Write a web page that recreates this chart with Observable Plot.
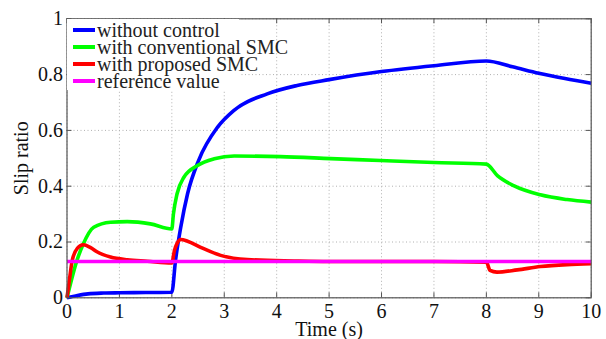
<!DOCTYPE html>
<html>
<head>
<meta charset="utf-8">
<script src="https://cdn.jsdelivr.net/npm/d3@7"></script>
<script src="https://cdn.jsdelivr.net/npm/@observablehq/plot@0.6"></script>
<style>
  html, body { margin: 0; padding: 0; background: white; }
  #wrap { position: relative; width: 606px; height: 339px; font-family: "Liberation Serif", "Times New Roman", "Liberation Sans", Arial, sans-serif; }
  #legend { position: absolute; left: 67px; top: 19px; width: 172px; height: 71px; background: white; }
  #legend .inner { position: absolute; left: 6px; top: 2.5px; }
  .row { display: flex; align-items: center; height: 17px; font-size: 20px; line-height: 17px; white-space: nowrap; color: #222; }
  .sw { display: inline-block; width: 22px; height: 4px; margin-right: 2px; flex: none; }
</style>
</head>
<body>
<div id="wrap"><div id="chart"></div><div id="legend"><div class="inner" id="legendInner"></div></div></div>
<script>
// ---- data ----
const seriesNames = ["without control", "with conventional SMC", "with proposed SMC", "reference value"];
const seriesColors = ["#0000ff", "#00ff00", "#ff0000", "#ff00ff"];

const blueT = [0, 0.2, 0.4, 0.7, 1, 1.5, 2.0, 2.07, 2.17, 2.30, 2.51, 2.87, 3.18, 3.82, 4.39, 5, 6, 7, 8, 8.5, 9, 9.5, 10];
const blueV = [0, 0.008, 0.014, 0.017, 0.018, 0.019, 0.02, 0.134, 0.253, 0.373, 0.492, 0.611, 0.671, 0.731, 0.761, 0.782, 0.811, 0.832, 0.849, 0.828, 0.805, 0.786, 0.769];

const greenT = [0, 0.19, 0.31, 0.51, 0.83, 1.15, 1.59, 2.0, 2.03, 2.10, 2.23, 2.49, 2.81, 3.19, 4.07, 5.03, 5.98, 7.0, 8.0, 8.21, 8.52, 9.03, 9.54, 10];
const greenV = [0, 0.134, 0.193, 0.253, 0.271, 0.273, 0.265, 0.247, 0.30, 0.373, 0.432, 0.474, 0.498, 0.508, 0.506, 0.499, 0.492, 0.485, 0.479, 0.438, 0.402, 0.369, 0.352, 0.343];

const redT = [0, 0.05, 0.1, 0.2, 0.31, 0.45, 0.58, 0.83, 1.15, 1.53, 2.0, 2.05, 2.1, 2.17, 2.3, 2.55, 2.93, 3.44, 4.33, 5, 6, 7, 8.0, 8.07, 8.2, 8.59, 9.03, 9.54, 10];
const redV = [0, 0.07, 0.134, 0.178, 0.19, 0.18, 0.164, 0.146, 0.136, 0.131, 0.125, 0.17, 0.195, 0.209, 0.203, 0.181, 0.152, 0.137, 0.132, 0.13, 0.13, 0.13, 0.128, 0.098, 0.092, 0.10, 0.112, 0.119, 0.122];

const refT = [0, 10];
const refV = [0.13, 0.13];

const xTicks = [0, 1, 2, 3, 4, 5, 6, 7, 8, 9, 10];
const yTicks = [0, 0.2, 0.4, 0.6, 0.8, 1];
const xLabel = "Time (s)";
const yLabel = "Slip ratio";

// ---- build ----
const W = 606, H = 339;
const mL = 66.5, mR = 15.3, mT = 18.3, mB = 41.7;
const innerW = W - mL - mR, innerH = H - mT - mB;
const FONT = "'Liberation Serif', 'Times New Roman', 'Liberation Sans', Arial, sans-serif";

const allT = [blueT, greenT, redT, refT];
const allV = [blueV, greenV, redV, refV];
const rows = [];
seriesNames.forEach((name, i) => {
  allT[i].forEach((t, j) => rows.push({series: name, t, v: allV[i][j]}));
});

const lineMarks = seriesNames.map((name, i) =>
  Plot.line(rows.filter(d => d.series === name), {
    x: "t", y: "v", stroke: seriesColors[i], strokeWidth: 3.6,
    curve: "monotone-x", strokeLinejoin: "round", strokeLinecap: "butt"
  })
);

const chart = Plot.plot({
  width: W, height: H,
  marginLeft: mL, marginRight: mR, marginTop: mT, marginBottom: mB,
  style: {fontFamily: FONT, fontSize: "20px", background: "white", color: "#111"},
  x: {domain: [0, 10]},
  y: {domain: [0, 1]},
  marks: [
    Plot.gridX(xTicks, {stroke: "#b0b0b0", strokeOpacity: 1, strokeDasharray: "1,2.5"}),
    Plot.gridY(yTicks, {stroke: "#b0b0b0", strokeOpacity: 1, strokeDasharray: "1,2.5"}),
    Plot.tickX(xTicks, {x: d => d, insetTop: innerH - 5, stroke: "#555"}),
    Plot.tickX(xTicks, {x: d => d, insetBottom: innerH - 5, stroke: "#555"}),
    Plot.tickY(yTicks, {y: d => d, insetRight: innerW - 5, stroke: "#555"}),
    Plot.tickY(yTicks, {y: d => d, insetLeft: innerW - 5, stroke: "#555"}),
    ...lineMarks,
    Plot.frame({stroke: "#555", strokeWidth: 1.2}),
    Plot.axisX(xTicks, {tickSize: 0, tickPadding: 6, fontSize: 20, tickFormat: d => String(d), label: xLabel, labelAnchor: "center", labelArrow: "none", labelOffset: 38}),
    Plot.axisY(yTicks, {tickSize: 0, tickPadding: 4, fontSize: 20, tickFormat: d => String(d), label: yLabel, labelAnchor: "center", labelArrow: "none", labelOffset: 53})
  ]
});
document.getElementById("chart").appendChild(chart);

// ---- legend ----
const leg = document.getElementById("legendInner");
seriesNames.forEach((name, i) => {
  const r = document.createElement("div");
  r.className = "row";
  const s = document.createElement("span");
  s.className = "sw";
  s.style.background = seriesColors[i];
  r.appendChild(s);
  r.appendChild(document.createTextNode(name));
  leg.appendChild(r);
});
</script>
</body>
</html>
